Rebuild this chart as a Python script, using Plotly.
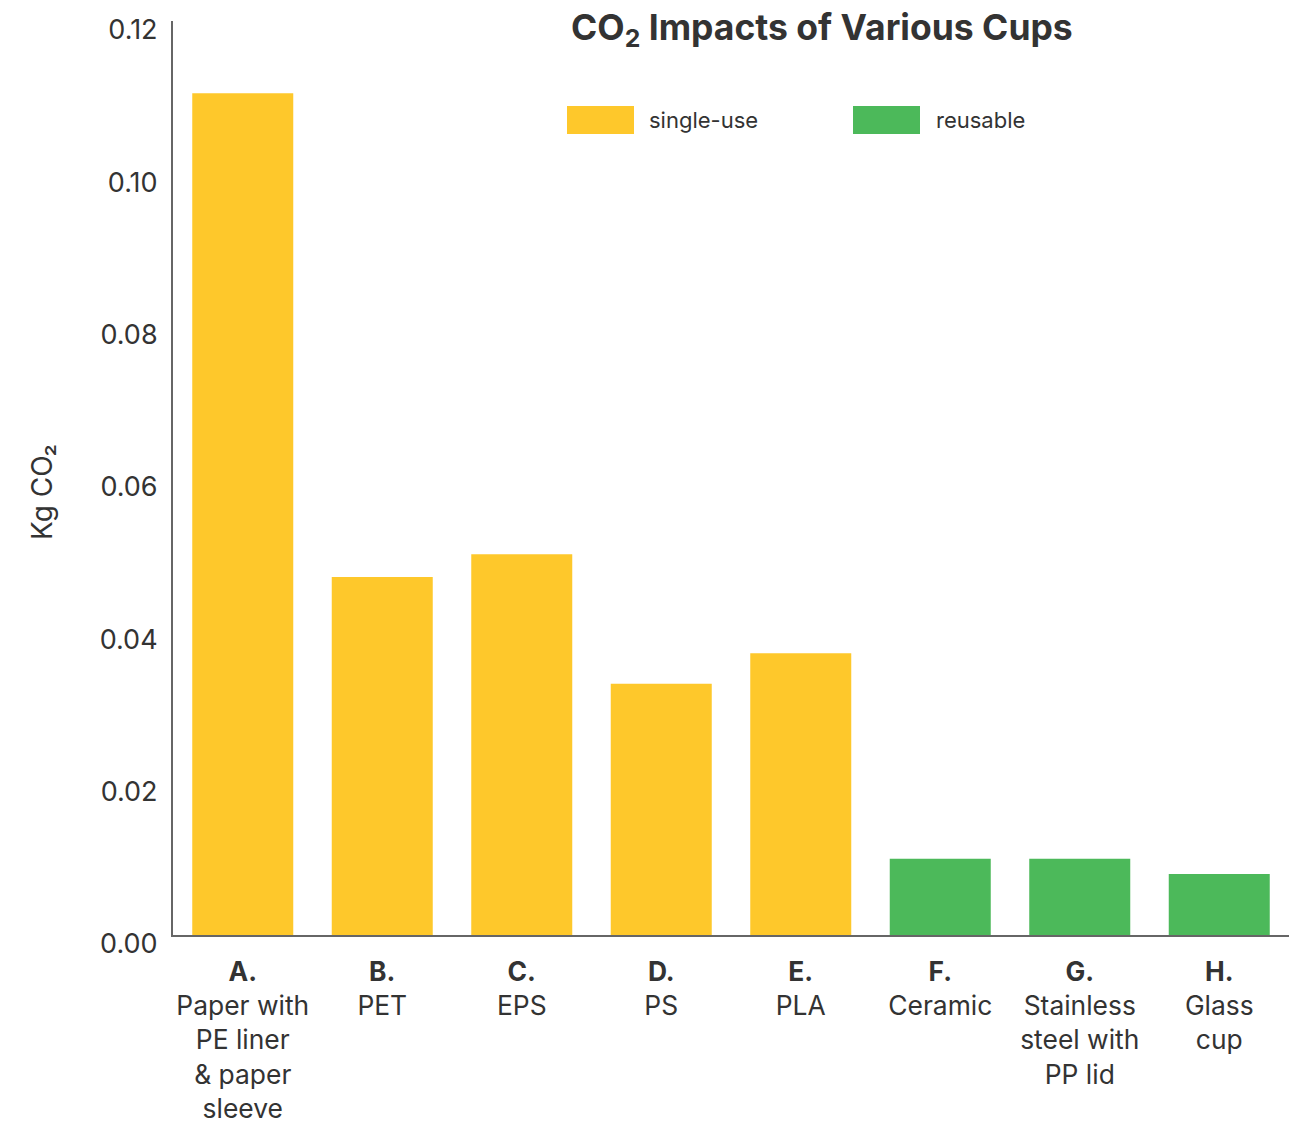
import plotly.graph_objects as go

categories = ["A", "B", "C", "D", "E", "F", "G", "H"]
tick_labels = [
    "<b>A.</b><br>Paper with<br>PE liner<br>& paper<br>sleeve",
    "<b>B.</b><br>PET",
    "<b>C.</b><br>EPS",
    "<b>D.</b><br>PS",
    "<b>E.</b><br>PLA",
    "<b>F.</b><br>Ceramic",
    "<b>G.</b><br>Stainless<br>steel with<br>PP lid",
    "<b>H.</b><br>Glass<br>cup",
]
single_use_cats = ["A", "B", "C", "D", "E"]
single_use_vals = [0.1105, 0.047, 0.050, 0.033, 0.037]
reusable_cats = ["F", "G", "H"]
reusable_vals = [0.010, 0.010, 0.008]
y_ticks = [0, 0.02, 0.04, 0.06, 0.08, 0.10, 0.12]

YELLOW = "#FEC82B"
GREEN = "#4CB95A"
TEXT = "#333333"
FONT = "Inter, Liberation Sans, sans-serif"

fig = go.Figure()
fig.add_trace(go.Bar(x=single_use_cats, y=single_use_vals, name="single-use",
                     marker=dict(color=YELLOW, line=dict(width=0)), showlegend=False))
fig.add_trace(go.Bar(x=reusable_cats, y=reusable_vals, name="reusable",
                     marker=dict(color=GREEN, line=dict(width=0)), showlegend=False))

W, H = 1293, 1124
L, R, T, B = 173, 4, 21, 189

fig.update_layout(
    width=W, height=H,
    margin=dict(l=L, r=R, t=T, b=B, pad=0, autoexpand=False),
    barmode="overlay",
    bargap=0.276,
    plot_bgcolor="white", paper_bgcolor="white",
    font=dict(family=FONT, color=TEXT, size=26),
    xaxis=dict(
        categoryorder="array", categoryarray=categories,
        tickmode="array", tickvals=categories, ticktext=tick_labels,
        range=[-0.5, 7.5],
        showline=True, linecolor="#666666", linewidth=2,
        showgrid=False, ticks="", zeroline=False,
        tickfont=dict(size=26.4, color=TEXT),
        ticklabelstandoff=12,
        automargin=False,
    ),
    yaxis=dict(
        range=[0, 0.12],
        tickmode="array", tickvals=y_ticks,
        tickformat=".2f",
        showline=True, linecolor="#666666", linewidth=2,
        showgrid=False, ticks="", zeroline=False,
        tickfont=dict(size=27, color=TEXT),
        ticklabelstandoff=8,
        ticklabelshift=9,
        automargin=False,
    ),
)

def px_x(v):
    return (v - L) / (W - L - R)

def px_y(v):
    return 1 - (v - T) / (H - T - B)

# y-axis title
fig.add_annotation(xref="paper", yref="paper", x=px_x(42), y=px_y(492),
                   text="Kg CO₂", textangle=-90, showarrow=False,
                   font=dict(size=28, color=TEXT), xanchor="center", yanchor="middle")

# title
fig.add_annotation(xref="paper", yref="paper", x=px_x(822), y=px_y(30),
                   text="<b>CO<sub>2</sub> Impacts of Various Cups</b>", showarrow=False,
                   font=dict(size=35.5, color=TEXT), xanchor="center", yanchor="middle")

# legend (drawn)
for (x0, x1, col, label, tx) in [(567, 634, YELLOW, "single-use", 647), (853, 920, GREEN, "reusable", 934)]:
    fig.add_shape(type="rect", xref="paper", yref="paper",
                  x0=px_x(x0), x1=px_x(x1), y0=px_y(134), y1=px_y(106),
                  fillcolor=col, line=dict(width=0))
    fig.add_annotation(xref="paper", yref="paper", x=px_x(tx), y=px_y(120),
                       text=label, showarrow=False, xanchor="left", yanchor="middle",
                       font=dict(size=22, color=TEXT))

fig.write_html("out.html", config={"displayModeBar": False},
               post_script="document.body.style.margin='0';")
